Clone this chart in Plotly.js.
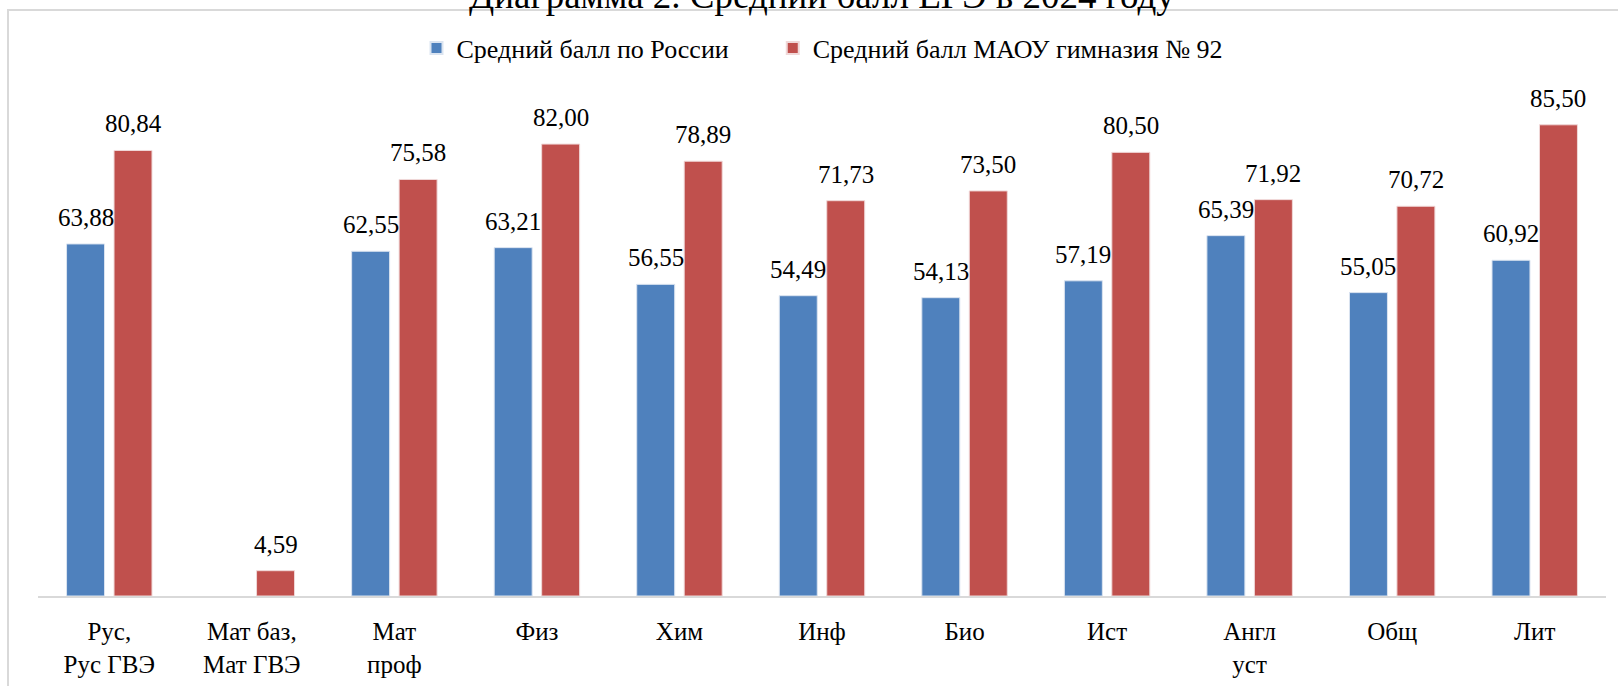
<!DOCTYPE html>
<html>
<head>
<meta charset="utf-8">
<script src="https://cdn.plot.ly/plotly-3.0.1.min.js"></script>
<style>html,body{margin:0;padding:0;background:#fff;}#chart{width:1618px;height:686px;}</style>
</head>
<body>
<div id="chart"></div>
<script>
const categories = ["Рус,<br>Рус ГВЭ", "Мат баз,<br>Мат ГВЭ", "Мат<br>проф", "Физ", "Хим", "Инф", "Био", "Ист", "Англ<br>уст", "Общ", "Лит"];
const russiaAvg = [63.88, null, 62.55, 63.21, 56.55, 54.49, 54.13, 57.19, 65.39, 55.05, 60.92];
const schoolAvg = [80.84, 4.59, 75.58, 82.00, 78.89, 71.73, 73.50, 80.50, 71.92, 70.72, 85.50];
const seriesNames = ["Средний балл по России", "Средний балл МАОУ гимназия № 92"];
const titleText = "Диаграмма 2. Средний балл ЕГЭ в 2024 году";

const FONT = "Liberation Serif";
const fmt = v => v.toFixed(2).replace('.', ',');

const W = 1618, H = 686;
const margin = {l: 38, r: 12, t: 100, b: 90};
const plotW = W - margin.l - margin.r;
const plotH = H - margin.t - margin.b;
const bargap = 0.334, bargroupgap = 0.2;
const catW = plotW / categories.length;
const slot = catW * (1 - bargap) / 2;
const legendPad = '\u00a0'.repeat(6);

const traces = [
  {type: 'bar', name: seriesNames[0] + legendPad, x: categories, y: russiaAvg,
   marker: {color: '#4f81bd', line: {color: '#dbe4f0', width: 1}}, hoverinfo: 'y'},
  {type: 'bar', name: seriesNames[1], x: categories, y: schoolAvg,
   marker: {color: '#c0504d', line: {color: '#f0d8d8', width: 1}}, hoverinfo: 'y'}
];

const annotations = [];
[russiaAvg, schoolAvg].forEach((arr, si) => {
  arr.forEach((v, i) => {
    if (v === null) return;
    annotations.push({
      x: categories[i], y: v, xref: 'x', yref: 'y',
      text: fmt(v), showarrow: false,
      xshift: (si === 0 ? -1 : 1) * slot / 2,
      yanchor: 'bottom', yshift: 11,
      font: {family: FONT, size: 25, color: '#000'}
    });
  });
});
annotations.push({
  xref: 'paper', yref: 'paper', x: 0.5, y: (H - margin.b - 18) / plotH,
  xanchor: 'center', yanchor: 'bottom', showarrow: false,
  text: titleText, font: {family: FONT, size: 37, color: '#000'}
});

const layout = {
  width: W, height: H,
  margin: margin,
  font: {family: FONT, color: '#000'},
  paper_bgcolor: '#fff', plot_bgcolor: '#fff',
  barmode: 'group', bargap: bargap, bargroupgap: bargroupgap,
  showlegend: true,
  legend: {orientation: 'h', x: 0.5, xanchor: 'center', y: (H - margin.b - 48) / plotH, yanchor: 'middle',
           font: {family: FONT, size: 26, color: '#000'}, itemsizing: 'constant'},
  xaxis: {type: 'category', showgrid: false, zeroline: false, showline: true, linecolor: '#d9d9d9', linewidth: 2,
          ticks: '', tickfont: {family: FONT, size: 25, color: '#000'}, ticklabelstandoff: 12, fixedrange: true},
  yaxis: {range: [0, 90], visible: false, showgrid: false, zeroline: false, fixedrange: true},
  annotations: annotations,
  shapes: [{type: 'rect', xref: 'paper', yref: 'paper',
            x0: (8 - margin.l) / plotW, x1: (W + 10 - margin.l) / plotW,
            y0: (H - margin.b - H - 10) / plotH, y1: (H - margin.b - 10) / plotH,
            line: {color: '#d9d9d9', width: 2}, fillcolor: 'rgba(0,0,0,0)', layer: 'below'}]
};

Plotly.newPlot('chart', traces, layout, {displayModeBar: false, staticPlot: true});
</script>
</body>
</html>
